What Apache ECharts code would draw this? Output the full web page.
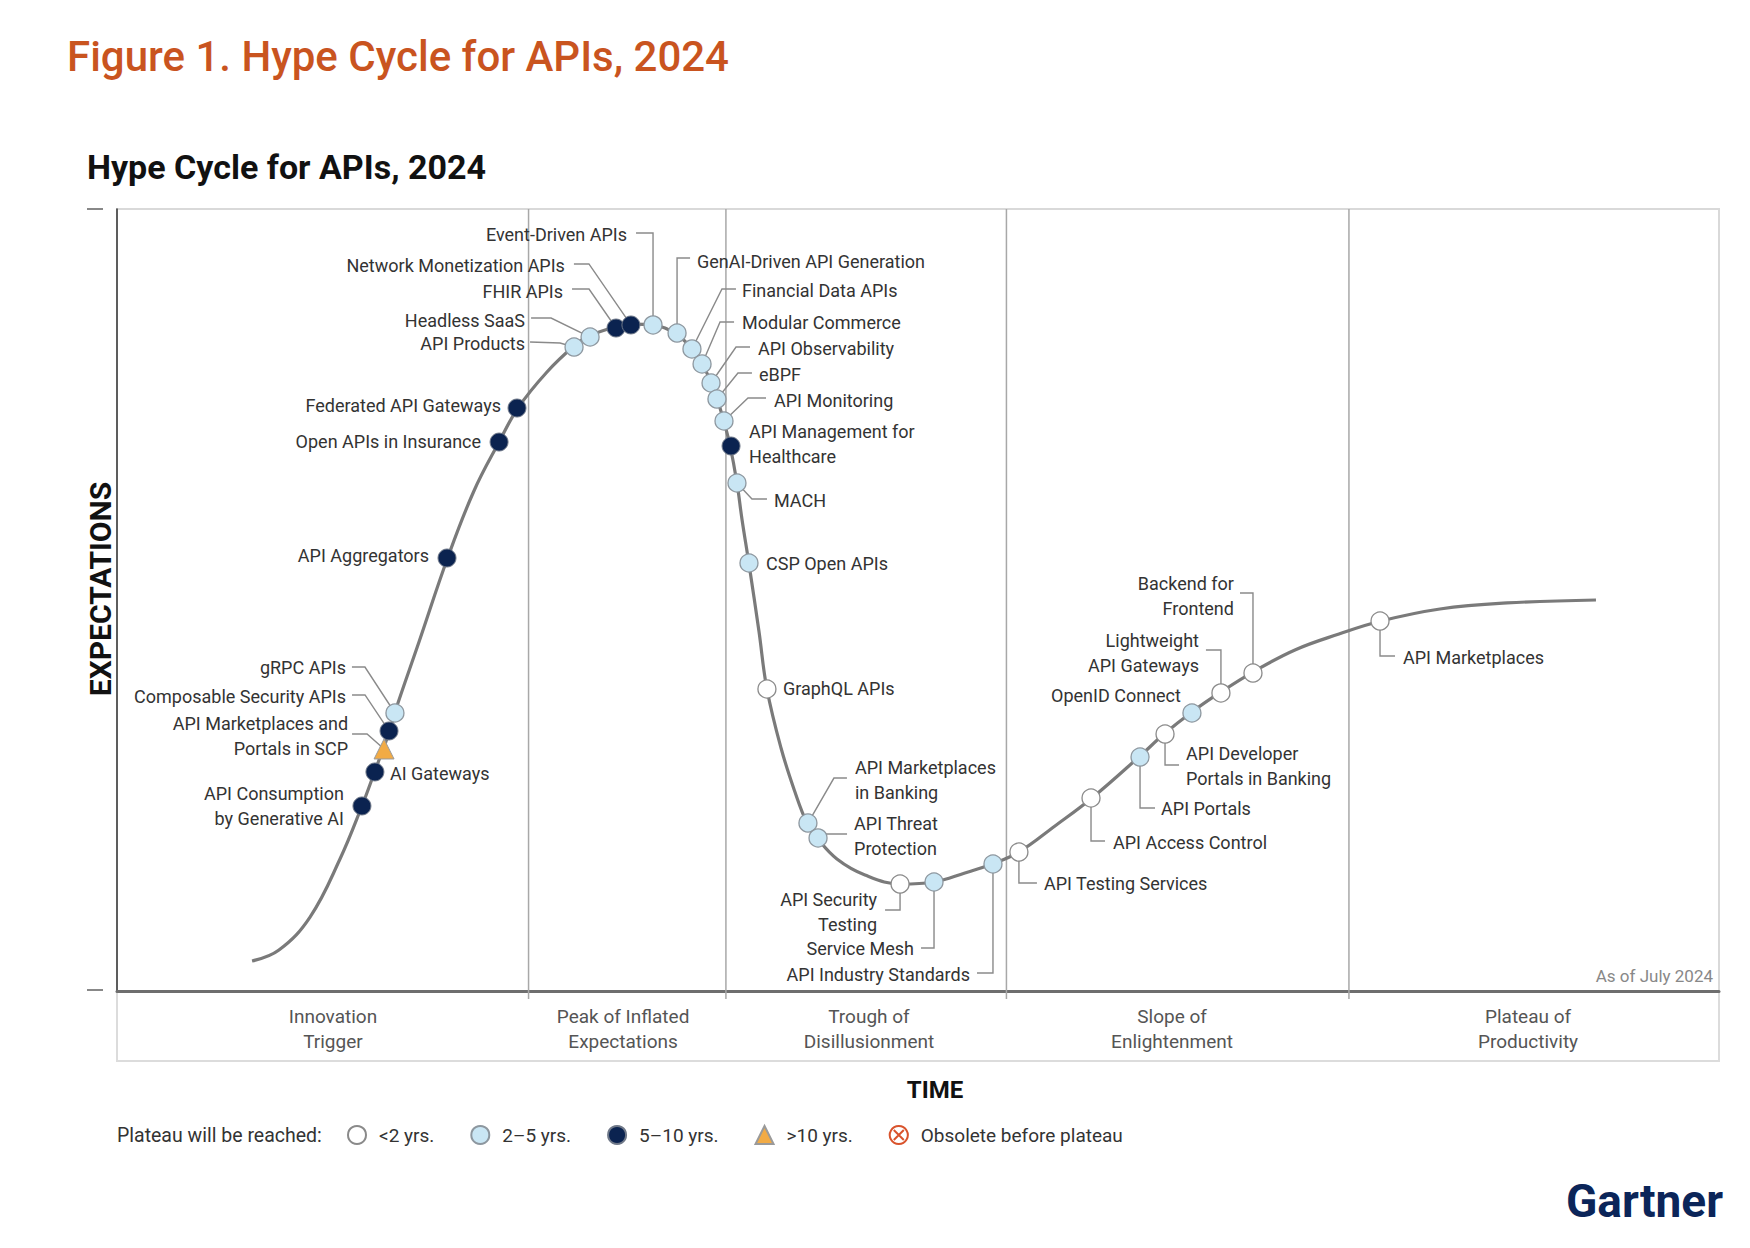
<!DOCTYPE html>
<html><head><meta charset="utf-8">
<script src="https://cdn.jsdelivr.net/npm/echarts@6/dist/echarts.min.js"></script>
<style>html,body{margin:0;padding:0;background:#fff}#c{width:1750px;height:1248px}</style>
</head><body><div id="c"></div>
<script>
// ---- curve (time 0..100, expectations 0..100)
const curveX = [8.43,10.11,12.05,13.92,15.29,16.10,17.04,17.35,18.85,20.66,22.28,23.85,25.03,26.84,28.53,29.46,31.09,32.15,33.46,34.89,35.89,36.52,37.08,37.45,37.89,38.26,38.70,39.01,39.45,40.07,40.57,41.45,42.32,43.07,43.70,44.94,46.69,48.94,51.00,52.93,54.62,56.30,58.55,60.86,63.86,65.36,67.10,68.91,70.91,73.53,76.28,78.90,82.58,86.77,92.32];
const curveY = [3.84,5.24,9.46,16.88,23.66,28.13,33.38,35.68,44.63,55.50,63.94,70.20,74.55,79.16,82.48,83.76,84.91,85.29,85.17,84.02,82.10,80.18,77.88,75.83,72.76,69.82,64.96,60.36,54.60,46.04,38.62,31.07,25.45,21.48,19.57,16.88,14.83,13.68,13.94,15.09,16.24,17.77,21.10,24.68,30.05,32.86,35.68,38.24,40.79,43.61,45.65,47.31,48.85,49.62,50.00];

// ---- technologies
const techNames = ["API Consumption\nby Generative AI","AI Gateways","API Marketplaces and\nPortals in SCP","Composable Security APIs","gRPC APIs","API Aggregators","Open APIs in Insurance","Federated API Gateways","API Products","Headless SaaS","FHIR APIs","Network Monetization APIs","Event-Driven APIs","GenAI-Driven API Generation","Financial Data APIs","Modular Commerce","API Observability","eBPF","API Monitoring","API Management for\nHealthcare","MACH","CSP Open APIs","GraphQL APIs","API Marketplaces\nin Banking","API Threat\nProtection","API Security\nTesting","Service Mesh","API Industry Standards","API Testing Services","API Access Control","API Portals","API Developer\nPortals in Banking","OpenID Connect","Lightweight\nAPI Gateways","Backend for\nFrontend","API Marketplaces"];
const techX = [15.29,16.10,16.67,16.98,17.35,20.60,23.85,24.97,28.53,29.53,31.15,32.08,33.46,34.96,35.89,36.52,37.08,37.45,37.89,38.33,38.70,39.45,40.57,43.13,43.76,48.88,51.00,54.68,56.30,60.80,63.86,65.42,67.10,68.91,70.91,78.84];
const techY = [23.66,28.01,30.95,33.25,35.55,55.37,70.20,74.55,82.35,83.63,84.78,85.17,85.17,84.14,82.10,80.18,77.75,75.70,72.89,69.69,64.96,54.73,38.62,21.48,19.57,13.68,13.94,16.24,17.77,24.68,29.92,32.86,35.55,38.11,40.66,47.31];
const techPlateau = ["5–10 yrs.","5–10 yrs.",">10 yrs.","5–10 yrs.","2–5 yrs.","5–10 yrs.","5–10 yrs.","5–10 yrs.","2–5 yrs.","2–5 yrs.","5–10 yrs.","5–10 yrs.","2–5 yrs.","2–5 yrs.","2–5 yrs.","2–5 yrs.","2–5 yrs.","2–5 yrs.","2–5 yrs.","5–10 yrs.","2–5 yrs.","2–5 yrs.","<2 yrs.","2–5 yrs.","2–5 yrs.","<2 yrs.","2–5 yrs.","2–5 yrs.","<2 yrs.","<2 yrs.","2–5 yrs.","<2 yrs.","2–5 yrs.","<2 yrs.","<2 yrs.","<2 yrs."];
const plateauClasses = ["<2 yrs.","2–5 yrs.","5–10 yrs.",">10 yrs.","Obsolete before plateau"];

// ---- phases
const phaseNames = ["Innovation\nTrigger","Peak of Inflated\nExpectations","Trough of\nDisillusionment","Slope of\nEnlightenment","Plateau of\nProductivity"];
const phaseCenters = [13.48,31.59,46.94,65.86,88.08];
const phaseBounds = [25.69,38.01,55.52,76.90];

// ---- label layout (pixel offsets from each dot; leader polyline offsets)
const labelLayout = [
 [-18,0,'right',null],
 [15,2,'left',null],
 [-36,-13,'right',[[-32,-15],[-17,-15],[0,0]]],
 [-43,-34,'right',[[-37,-36],[-24,-36],[0,0]]],
 [-49,-45,'right',[[-43,-46],[-30,-46],[0,0]]],
 [-18,-3,'right',null],
 [-18,-1,'right',null],
 [-16,-3,'right',null],
 [-49,-4,'right',[[-44,-5],[-14,-4],[0,0]]],
 [-65,-17,'right',[[-59,-19],[-39,-19],[0,0]]],
 [-53,-37,'right',[[-44,-39],[-27,-39],[0,0]]],
 [-66,-59,'right',[[-57,-61],[-42,-61],[0,0]]],
 [-26,-90,'right',[[-17,-92],[0,-92],[0,0]]],
 [20,-72,'left',[[13,-75],[0,-75],[0,0]]],
 [50,-58,'left',[[44,-60],[30,-60],[0,0]]],
 [40,-41,'left',[[32,-42],[18,-42],[0,0]]],
 [47,-34,'left',[[39,-36],[25,-36],[0,0]]],
 [42,-25,'left',[[35,-26],[21,-26],[0,0]]],
 [50,-21,'left',[[42,-23],[24,-23],[0,0]]],
 [18,-2,'left',null],
 [37,17,'left',[[30,16],[15,16],[0,0]]],
 [17,0,'left',null],
 [16,0,'left',null],
 [47,-43,'left',[[39,-45],[26,-45],[0,0]]],
 [36,-2,'left',[[29,-4],[8,-4],[0,0]]],
 [-23,28,'right',[[-15,26],[0,26],[0,0]]],
 [-20,67,'right',[[-13,66],[0,66],[0,0]]],
 [-23,110,'right',[[-16,109],[0,109],[0,0]]],
 [25,31,'left',[[18,31],[0,31],[0,0]]],
 [22,44,'left',[[14,43],[0,43],[0,0]]],
 [21,51,'left',[[15,51],[0,51],[0,0]]],
 [21,32,'left',[[14,31],[0,31],[0,0]]],
 [-11,-17,'right',null],
 [-22,-40,'right',[[-15,-43],[0,-43],[0,0]]],
 [-19,-77,'right',[[-13,-80],[0,-80],[0,0]]],
 [23,36,'left',[[15,35],[0,35],[0,0]]]
];

const FONT = 'Roboto';
const classStyle = {
 "<2 yrs.": {symbol:'circle', size:18, itemStyle:{color:'#ffffff', borderColor:'#8a8a8a', borderWidth:1.3, opacity:1}},
 "2–5 yrs.": {symbol:'circle', size:18, itemStyle:{color:'#c9e6f4', borderColor:'#8d979f', borderWidth:1.3, opacity:1}},
 "5–10 yrs.": {symbol:'circle', size:18, itemStyle:{color:'#0b2350', borderColor:'#6f7888', borderWidth:1, opacity:1}},
 ">10 yrs.": {symbol:'triangle', size:20, itemStyle:{color:'#f2ab45', borderColor:'#9a9a9a', borderWidth:1, opacity:1}},
 "Obsolete before plateau": {symbol:'path://M10,1A9,9,0,1,1,9.99,1Z M5,5L15,15 M15,5L5,15', size:18, itemStyle:{color:'#ffffff', borderColor:'#d9532c', borderWidth:2, opacity:1}}
};

const scatterSeries = plateauClasses.map(cls => {
  const st = classStyle[cls];
  const data = [];
  techX.forEach((x,i)=>{ if (techPlateau[i]===cls) data.push([x, techY[i]]); });
  return {name: cls, type:'scatter', data, symbol: st.symbol, symbolSize: st.size, itemStyle: st.itemStyle, z: 6, silent:true};
});

const chart = echarts.init(document.getElementById('c'), null, {renderer:'svg'});
chart.setOption({
  animation:false,
  backgroundColor:'#ffffff',
  grid:{left:117, right:31, top:209, bottom:257, show:true, borderColor:'#d9d9d9', borderWidth:2},
  xAxis:{type:'value', min:0, max:100, interval:100, axisLine:{show:true, lineStyle:{color:'#6e6e6e', width:3}}, axisTick:{show:false}, axisLabel:{show:false}, splitLine:{show:false}},
  yAxis:{type:'value', min:0, max:100, interval:100, axisLine:{show:true, lineStyle:{color:'#333333', width:1.5}}, axisTick:{show:false}, axisLabel:{show:false}, splitLine:{show:false}},
  legend:{data: plateauClasses, left:342, top:1120, itemWidth:18, itemHeight:18, itemGap:36, selectedMode:false,
    textStyle:{fontSize:19, color:'#333', fontFamily:FONT, padding:[0,0,0,8]}},
  graphic:[
    {type:'text', x:67, y:56, style:{text:'Figure 1. Hype Cycle for APIs, 2024', fill:'#c9541f', fontSize:42, fontWeight:500, fontFamily:FONT, align:'left', verticalAlign:'middle'}},
    {type:'text', x:87, y:167, style:{text:'Hype Cycle for APIs, 2024', fill:'#111', fontSize:34, fontWeight:'bold', fontFamily:FONT, align:'left', verticalAlign:'middle'}},
    {type:'text', x:100, y:589, rotation:Math.PI/2, style:{text:'EXPECTATIONS', fill:'#111', fontSize:30, fontWeight:'bold', fontFamily:FONT, align:'center', verticalAlign:'middle'}},
    {type:'text', x:935, y:1090, style:{text:'TIME', fill:'#111', fontSize:24, fontWeight:'bold', fontFamily:FONT, align:'center', verticalAlign:'middle'}},
    {type:'text', x:117, y:1135, style:{text:'Plateau will be reached:', fill:'#333', fontSize:19.5, fontFamily:FONT, align:'left', verticalAlign:'middle'}},
    {type:'text', x:1713, y:976, style:{text:'As of July 2024', fill:'#888', fontSize:17, fontFamily:FONT, align:'right', verticalAlign:'middle'}},
    {type:'text', x:1566, y:1201, style:{text:'Gartner', fill:'#0b2559', fontSize:46, fontWeight:'bold', fontFamily:FONT, align:'left', verticalAlign:'middle'}},
    {type:'rect', shape:{x:117, y:991, width:1602, height:70}, style:{fill:null, stroke:'#dcdcdc', lineWidth:2}, z:-1},
    {type:'line', shape:{x1:87, y1:209, x2:103, y2:209}, style:{stroke:'#888', lineWidth:2}},
    {type:'line', shape:{x1:87, y1:990, x2:103, y2:990}, style:{stroke:'#888', lineWidth:2}}
  ],
  series:[
    {type:'custom', name:'dividers', silent:true, z:1, clip:false,
     data: phaseBounds.map(b=>[b,0]),
     renderItem:(params, api)=>{
       const top = api.coord([api.value(0), 100]);
       const bot = api.coord([api.value(0), 0]);
       return {type:'line', shape:{x1:top[0], y1:top[1], x2:bot[0], y2:bot[1]+8}, style:{stroke:'#a8a8a8', lineWidth:1.5}};
     }},
    {type:'custom', name:'phases', silent:true, z:1, clip:false,
     data: phaseCenters.map((c,i)=>[c,0,i]),
     renderItem:(params, api)=>{
       const p = api.coord([api.value(0), 0]);
       return {type:'text', x:p[0], y:p[1]+38, style:{text:phaseNames[api.value(2)], fill:'#555', fontSize:19, fontFamily:FONT, lineHeight:25, align:'center', verticalAlign:'middle'}};
     }},
    {type:'line', name:'curve', data: curveX.map((x,i)=>[x, curveY[i]]), showSymbol:false, smooth:0.4, silent:true, z:2,
     lineStyle:{color:'#7a7a7a', width:3.2}},
    {type:'custom', name:'labels', silent:true, z:3, clip:false,
     data: techX.map((x,i)=>[x, techY[i], i]),
     renderItem:(params, api)=>{
       const i = api.value(2);
       const p = api.coord([api.value(0), api.value(1)]);
       const L = labelLayout[i];
       const children = [];
       if (L[3]) children.push({type:'polyline', shape:{points:L[3].map(o=>[p[0]+o[0], p[1]+o[1]])}, style:{stroke:'#8a8a8a', lineWidth:1.4, fill:null}});
       children.push({type:'text', x:p[0]+L[0], y:p[1]+L[1], style:{text:techNames[i], fill:'#333', fontSize:18, fontFamily:FONT, lineHeight:25, align:L[2], verticalAlign:'middle'}});
       return {type:'group', children};
     }},
    ...scatterSeries
  ]
});
</script></body></html>
